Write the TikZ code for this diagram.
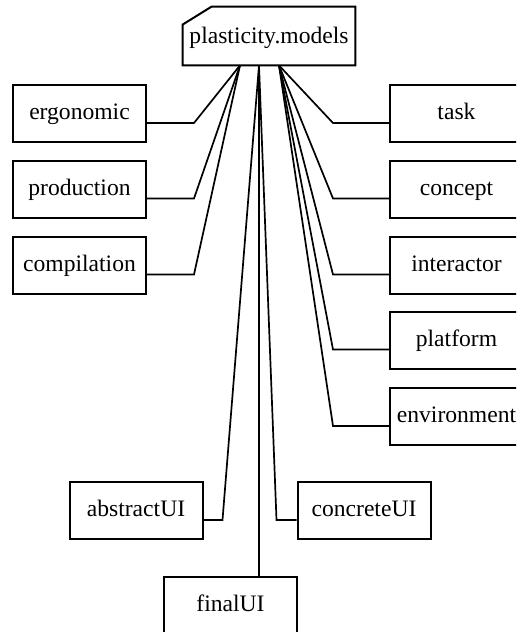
\documentclass[tikz,border=0pt]{standalone}
\usepackage{fontspec}
\setmainfont{Liberation Serif}

\begin{document}
\begin{tikzpicture}[x=0.5pt,y=-0.5pt,
  model/.style={draw,line width=1pt,minimum width=66.5pt,minimum height=28.5pt,
    inner sep=0pt,text height=8pt,text depth=2pt,font=\fontsize{11.8}{14}\selectfont},
  link/.style={line width=0.85pt}]
\useasboundingbox (0,0) rectangle (516,632);
\clip (0,0) rectangle (516,632);
% package node
\node[minimum width=86pt,minimum height=29pt,inner sep=0pt,text height=8.5pt,
  text depth=1.5pt,font=\fontsize{11.8}{14}\selectfont] (models) at (269,36) {plasticity.models};
\draw[line width=1pt] (models.south west) -- ([yshift=-9pt]models.north west)
  -- ([xshift=14.5pt]models.north west) -- (models.north east)
  -- (models.south east) -- cycle;
\coordinate (hubL) at ([xshift=-14.5pt]models.south);
\coordinate (hubC) at ([xshift=-5pt]models.south);
\coordinate (hubR) at ([xshift=5pt]models.south);
% left column
\node[model] (ergonomic) at (79.5,113.5) {ergonomic};
\node[model] (production) at (79.5,189) {production};
\node[model] (compilation) at (79.5,265) {compilation};
% right column
\node[model] (task) at (456.5,113.5) {task};
\node[model] (concept) at (456.5,189) {concept};
\node[model] (interactor) at (456.5,265) {interactor};
\node[model] (platform) at (456.5,340) {platform};
\node[model] (environment) at (456.5,416.5) {environment};
% bottom
\node[model] (abstractUI) at (136,510.5) {abstractUI};
\node[model] (concreteUI) at (364,510.5) {concreteUI};
\node[model] (finalUI) at (230.5,605.5) {finalUI};
% links
\draw[link] ([yshift=-4.75pt]ergonomic.east) -- ++(47,0) -- (hubL);
\draw[link] ([yshift=-4.75pt]production.east) -- ++(47,0) -- (hubL);
\draw[link] ([yshift=-4.75pt]compilation.east) -- ++(47,0) -- (hubL);
\draw[link] ([yshift=-4.75pt]task.west) -- ++(-56,0) -- (hubR);
\draw[link] ([yshift=-4.75pt]concept.west) -- ++(-56,0) -- (hubR);
\draw[link] ([yshift=-4.75pt]interactor.west) -- ++(-56,0) -- (hubR);
\draw[link] ([yshift=-4.75pt]platform.west) -- ++(-56,0) -- (hubR);
\draw[link] ([yshift=-4.75pt]environment.west) -- ++(-56,0) -- (hubR);
\draw[link] ([yshift=-4.75pt]abstractUI.east) -- ++(19,0) -- (hubC);
\draw[link] ([yshift=-4.75pt]concreteUI.west) -- ++(-20,0) -- (hubC);
\draw[link] (hubC |- finalUI.north) -- (hubC);
\end{tikzpicture}
\end{document}
